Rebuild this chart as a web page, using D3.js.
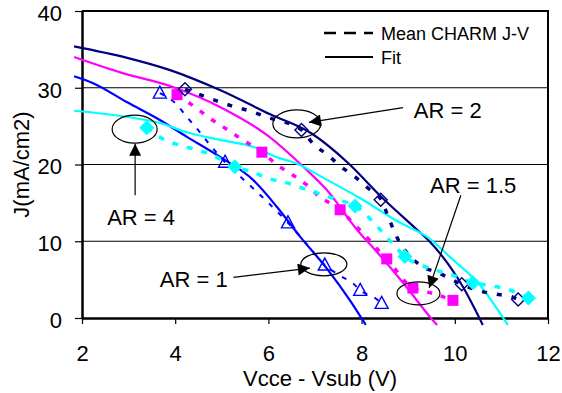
<!DOCTYPE html>
<html>
<head>
<meta charset="utf-8">
<script src="https://cdn.jsdelivr.net/npm/d3@7"></script>
<style>
  html, body { margin: 0; padding: 0; background: #fff; }
  svg { display: block; }
</style>
</head>
<body>
<svg id="chart"></svg>
<script>
// Axis ticks
const xTicks = [2, 4, 6, 8, 10, 12];
const yTicks = [0, 10, 20, 30, 40];

// Fit curves (solid)
const fit1V = [1.83, 2.24, 2.97, 3.67, 4.25, 4.96, 5.67, 6.18, 6.68, 7.26, 7.75, 8.09];
const fit1J = [31.5, 30.6, 28.1, 25.8, 23.6, 21.0, 18.0, 14.5, 10.6, 6.4, 2.3, -0.9];
const fit15V = [1.83, 2.82, 3.95, 4.96, 6.0, 6.75, 7.25, 7.9, 8.33, 8.89, 9.53, 9.62];
const fit15J = [34.0, 32.0, 30.1, 27.5, 23.7, 19.7, 16.7, 11.5, 8.6, 4.6, -0.3, -0.9];
const fit2V = [1.83, 2.97, 3.89, 4.96, 6.05, 6.91, 7.71, 8.42, 9.19, 9.47, 10.18, 10.6];
const fit2J = [35.4, 33.9, 32.3, 29.7, 26.5, 24.1, 20.2, 15.8, 11.5, 9.9, 4.0, -0.9];
const fit4V = [1.83, 2.97, 3.67, 4.25, 4.96, 5.67, 6.25, 6.53, 7.26, 7.97, 8.83, 9.4, 9.96, 10.54, 10.93, 11.14];
const fit4J = [27.0, 26.2, 25.4, 24.2, 23.2, 22.3, 20.8, 20.3, 18.0, 15.6, 12.4, 10.6, 7.6, 4.3, 1.0, -0.9];

// Mean CHARM J-V (dashed)
const mean1V = [3.67, 4.0, 4.25, 4.49, 4.7, 5.07, 5.6, 6.0, 6.42, 6.8, 7.21, 7.54, 7.82, 7.97, 8.29, 8.43];
const mean1J = [29.3, 28.0, 26.2, 24.5, 22.9, 20.3, 17.3, 15.0, 12.4, 9.8, 6.9, 5.5, 4.5, 3.6, 2.6, 1.9];
const mean15V = [4.04, 4.42, 4.7, 5.03, 5.35, 5.86, 6.2, 6.53, 6.83, 7.1, 7.54, 7.86, 8.1, 8.35, 8.54, 9.1, 9.53, 9.96];
const mean15J = [29.1, 27.5, 26.2, 24.9, 23.6, 21.6, 19.9, 18.6, 17.3, 15.8, 14.1, 12.1, 10.6, 8.9, 7.7, 3.9, 3.2, 2.3];
const mean2V = [4.21, 4.53, 4.89, 5.28, 5.64, 5.96, 6.71, 6.96, 7.28, 7.56, 7.86, 8.14, 8.42, 8.57, 8.72, 9.25, 9.64, 10.15, 10.54, 10.9, 11.25, 11.36];
const mean2J = [29.8, 29.1, 28.3, 27.5, 26.9, 26.2, 24.5, 22.7, 21.2, 19.7, 18.4, 16.9, 15.4, 13.2, 11.0, 6.9, 5.9, 4.4, 3.5, 3.1, 2.7, 2.4];
const mean4V = [3.39, 3.78, 4.1, 4.47, 4.81, 5.28, 5.67, 5.99, 6.4, 6.74, 7.1, 7.43, 7.86, 8.4, 8.65, 8.93, 9.4, 9.94, 10.39, 10.76, 11.1, 11.58];
const mean4J = [24.8, 23.2, 22.5, 21.9, 21.2, 19.7, 19.0, 18.2, 17.6, 16.9, 16.2, 15.5, 14.6, 11.5, 9.8, 8.0, 6.6, 5.6, 4.6, 4.2, 3.8, 2.6];

// Markers on the mean curves
const mark1V = [3.67, 5.07, 6.42, 7.21, 7.97, 8.43];
const mark1J = [29.3, 20.3, 12.4, 6.9, 3.6, 1.9];
const mark15V = [4.04, 5.86, 7.54, 8.54, 9.1, 9.96];
const mark15J = [29.1, 21.6, 14.1, 7.7, 3.9, 2.3];
const mark2V = [4.21, 6.71, 8.41, 10.15, 11.36];
const mark2J = [29.8, 24.5, 15.4, 4.4, 2.4];
const mark4V = [3.39, 5.28, 7.86, 8.93, 10.39, 11.58];
const mark4J = [24.8, 19.7, 14.6, 8.0, 4.6, 2.6];

// Annotations: label position, arrow from/to, ellipse centre (data units)
const annLabels = ["AR = 1", "AR = 1.5", "AR = 2", "AR = 4"];
const annTextV = [3.67, 9.47, 9.12, 2.54];
const annTextJ = [4.0, 16.3, 26.1, 12.1];
const annFromV = [5.25, 10.13, 8.89, 3.14];
const annFromJ = [5.3, 16.0, 27.4, 16.0];
const annToV = [6.89, 9.45, 6.87, 3.14];
const annToJ = [6.5, 3.9, 25.5, 22.7];
const ellV = [7.19, 9.22, 6.61, 3.13];
const ellJ = [7.0, 3.2, 25.3, 24.6];

const W = 562, H = 393;
const margin = { top: 11, right: 14, bottom: 75, left: 82 };
const font = '"Liberation Sans", Arial, sans-serif';

const svg = d3.select("#chart").attr("width", W).attr("height", H)
  .style("font-family", font);
svg.append("rect").attr("width", W).attr("height", H).attr("fill", "#fff");

const x = d3.scaleLinear().domain([2, 12]).range([margin.left, W - margin.right]);
const y = d3.scaleLinear().domain([0, 40]).range([H - margin.bottom, margin.top]);

// arrowhead
svg.append("defs").append("marker")
  .attr("id", "arrow")
  .attr("viewBox", "0 0 10 10")
  .attr("refX", 10).attr("refY", 5)
  .attr("markerWidth", 14).attr("markerHeight", 12)
  .attr("markerUnits", "userSpaceOnUse")
  .attr("orient", "auto")
  .append("path").attr("d", "M0,0L10,5L0,10Z").attr("fill", "#000");

// gridlines
svg.append("g")
  .selectAll("line")
  .data(yTicks.filter((t) => t > 0 && t < 40))
  .join("line")
  .attr("x1", x(2)).attr("x2", x(12))
  .attr("y1", (d) => y(d)).attr("y2", (d) => y(d))
  .attr("stroke", "#000").attr("stroke-width", 1);

// frame top/right
svg.append("path")
  .attr("d", `M${x(2)},${y(40)}H${x(12)}V${y(0)}`)
  .attr("fill", "none").attr("stroke", "#000").attr("stroke-width", 2);

// axes
const xAxis = svg.append("g")
  .attr("transform", `translate(0,${y(0)})`)
  .call(d3.axisBottom(x).tickValues(xTicks).tickSize(6).tickPadding(21).tickSizeOuter(0));
const yAxis = svg.append("g")
  .attr("transform", `translate(${x(2)},0)`)
  .call(d3.axisLeft(y).tickValues(yTicks).tickSize(7).tickPadding(13).tickSizeOuter(0));
xAxis.select(".domain").attr("stroke-width", 2.5);
yAxis.select(".domain").attr("stroke-width", 2.5);
xAxis.selectAll("line").attr("stroke-width", 1.2);
yAxis.selectAll("line").attr("stroke-width", 1.2);
xAxis.selectAll("text").attr("font-size", 22).attr("font-family", font).attr("fill", "#000");
yAxis.selectAll("text").attr("font-size", 22).attr("font-family", font).attr("fill", "#000")
  .attr("dy", "0.42em");

// axis titles
svg.append("text")
  .attr("x", (x(2) + x(12)) / 2 + 5).attr("y", 386)
  .attr("text-anchor", "middle").attr("font-size", 22)
  .text("Vcce - Vsub (V)");
svg.append("text")
  .attr("transform", `translate(29,${(y(0) + y(40)) / 2}) rotate(-90)`)
  .attr("text-anchor", "middle").attr("font-size", 22)
  .text("J(mA/cm2)");

const zip = (vs, js) => vs.map((v, i) => [v, js[i]]);
const line = d3.line().x((d) => x(d[0])).y((d) => y(d[1])).curve(d3.curveMonotoneX);

const series = [
  { fit: zip(fit1V, fit1J), mean: zip(mean1V, mean1J), marks: zip(mark1V, mark1J),
    color: "#0000FF", meanWidth: 2, dash: "5,8", sym: "triangle", fill: "none" },
  { fit: zip(fit15V, fit15J), mean: zip(mean15V, mean15J), marks: zip(mark15V, mark15J),
    color: "#FF00FF", meanWidth: 3.5, dash: "5,9", sym: "square", fill: "#FF00FF" },
  { fit: zip(fit2V, fit2J), mean: zip(mean2V, mean2J), marks: zip(mark2V, mark2J),
    color: "#000080", meanWidth: 3.5, dash: "5,10", sym: "diamond", fill: "none" },
  { fit: zip(fit4V, fit4J), mean: zip(mean4V, mean4J), marks: zip(mark4V, mark4J),
    color: "#00FFFF", meanWidth: 3.5, dash: "6,9", sym: "diamondF", fill: "#00FFFF" },
];

// fits
svg.append("g").selectAll("path")
  .data(series).join("path")
  .attr("d", (d) => line(d.fit))
  .attr("fill", "none").attr("stroke", (d) => d.color).attr("stroke-width", 2.2);

// means
svg.append("g").selectAll("path")
  .data(series).join("path")
  .attr("d", (d) => line(d.mean))
  .attr("fill", "none").attr("stroke", (d) => d.color)
  .attr("stroke-width", (d) => d.meanWidth)
  .attr("stroke-dasharray", (d) => d.dash);

// markers
function symPath(kind) {
  if (kind === "triangle") return "M0,-7L6.5,5L-6.5,5Z";
  if (kind === "square") return "M-5.5,-5.5H5.5V5.5H-5.5Z";
  if (kind === "diamond") return "M0,-6.5L6.5,0L0,6.5L-6.5,0Z";
  return "M0,-7.5L7.5,0L0,7.5L-7.5,0Z";
}
series.forEach((s) => {
  svg.append("g").selectAll("path")
    .data(s.marks).join("path")
    .attr("transform", (d) => `translate(${x(d[0])},${y(d[1])})`)
    .attr("d", symPath(s.sym))
    .attr("fill", s.fill)
    .attr("stroke", s.color)
    .attr("stroke-width", s.fill === "none" ? 1.4 : 0);
});

// annotations
const ellRx = [23, 21.5, 24, 22.5];
const ellRy = [11.5, 11.5, 14, 14];
const ann = svg.append("g");
annLabels.forEach((lab, i) => {
  ann.append("ellipse")
    .attr("cx", x(ellV[i])).attr("cy", y(ellJ[i]))
    .attr("rx", ellRx[i]).attr("ry", ellRy[i])
    .attr("fill", "none").attr("stroke", "#000").attr("stroke-width", 1.2);
  ann.append("line")
    .attr("x1", x(annFromV[i])).attr("y1", y(annFromJ[i]))
    .attr("x2", x(annToV[i])).attr("y2", y(annToJ[i]))
    .attr("stroke", "#000").attr("stroke-width", 1.2)
    .attr("marker-end", "url(#arrow)");
  ann.append("text")
    .attr("x", x(annTextV[i])).attr("y", y(annTextJ[i]))
    .attr("font-size", 22).attr("fill", "#000")
    .text(lab);
});

// legend
const leg = svg.append("g");
leg.append("line").attr("x1", 324).attr("x2", 373).attr("y1", 33).attr("y2", 33)
  .attr("stroke", "#000").attr("stroke-width", 2.5).attr("stroke-dasharray", "12,8");
leg.append("text").attr("x", 381).attr("y", 39.5).attr("font-size", 18).text("Mean CHARM J-V");
leg.append("line").attr("x1", 325).attr("x2", 373).attr("y1", 57).attr("y2", 57)
  .attr("stroke", "#000").attr("stroke-width", 2);
leg.append("text").attr("x", 381).attr("y", 63.5).attr("font-size", 18).text("Fit");
</script>
</body>
</html>
